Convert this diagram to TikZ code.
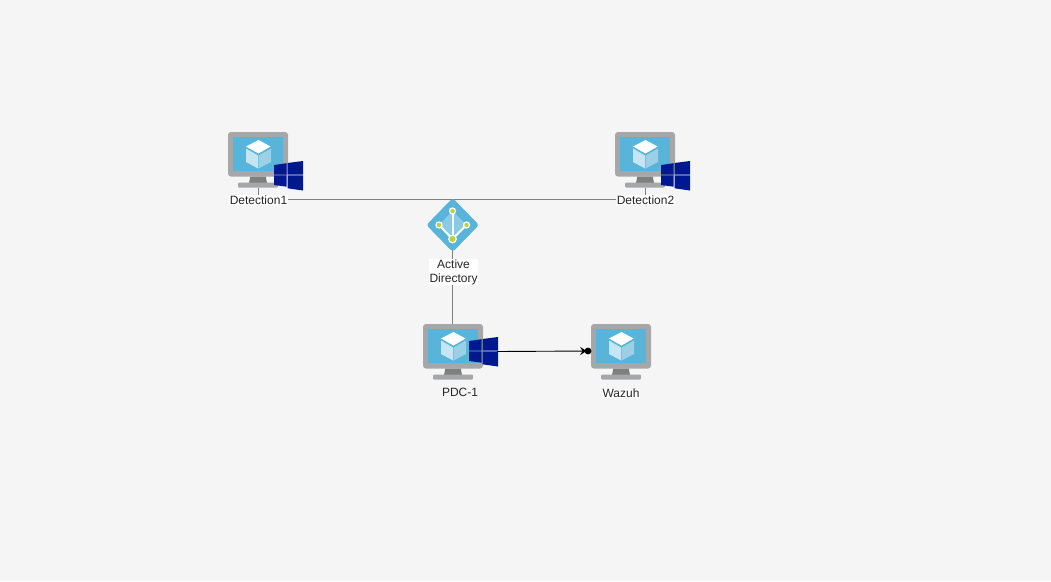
\documentclass[tikz,border=0pt]{standalone}
\usepackage{fontspec}
\setmainfont{Liberation Sans}
\definecolor{bgc}{HTML}{F5F5F5}
\definecolor{azure}{HTML}{59B4D9}
\definecolor{bezel}{HTML}{A6A7A8}
\definecolor{neck}{HTML}{7F7F7F}
\definecolor{wnavy}{HTML}{00188F}
\definecolor{cubeL}{HTML}{C3E6F2}
\definecolor{cubeR}{HTML}{9CD0E7}
\definecolor{lime}{HTML}{B8D432}
\definecolor{conn}{HTML}{808080}
\tikzset{
  x=1pt,y=-1pt,
  lbl/.style={font=\fontsize{12}{14}\selectfont,text=black!85,fill=white,inner sep=0.5pt,align=center},
  anchorbox/.style={inner sep=0,outer sep=0,minimum size=1pt},
  gline/.style={draw=conn,line width=0.8pt},
  pics/monitor/.style={code={
    \fill[bezel,rounded corners=3pt] (0,0) rectangle (60,44.5);
    \fill[azure] (5,5) rectangle (55,39);
    \fill[neck] (22,44.5) -- (38,44.5) -- (38,46) -- (39,51) -- (21,51) -- (22,46) -- cycle;
    \fill[bezel,rounded corners=1pt] (10,50.5) rectangle (50,55.5);
    \fill[white] (30.5,8) -- (42.5,14.5) -- (30.5,21.5) -- (18,14.5) -- cycle;
    \fill[cubeL] (18,16.5) -- (30,23.5) -- (30,36.5) -- (18,30) -- cycle;
    \fill[cubeR] (43,16.5) -- (30.6,23.5) -- (30.6,36.5) -- (43,30) -- cycle;
  }},
  pics/winlogo/.style={code={
    \fill[wnavy] (0,4) -- (12.7,2.2) -- (12.7,13.5) -- (0,13.5) -- cycle;
    \fill[wnavy] (13.5,2) -- (29,0) -- (29,13.5) -- (13.5,13.5) -- cycle;
    \fill[wnavy] (0,14.3) -- (12.7,14.3) -- (12.7,25.7) -- (0,24) -- cycle;
    \fill[wnavy] (13.5,14.3) -- (29,14.3) -- (29,29.5) -- (13.5,27.3) -- cycle;
  }}
}
\begin{document}
\begin{tikzpicture}
\useasboundingbox (0,0) rectangle (1051,581);
\fill[bgc] (0,0) rectangle (1051,581);
% anchors for connectors
\node[anchorbox] (basea) at (258,187.5) {};
\node[anchorbox] (baseb) at (645,187.5) {};
\node[lbl] (deta) at (258.5,200.4) {Detection1};
\node[lbl] (detb) at (645.5,200.4) {Detection2};
\node[lbl] (adl) at (453.5,272.2) {Active\\Directory};
\coordinate (adtop) at (452.5,199.5);
\node[anchorbox] (pdctop) at (452.5,324) {};
\node[anchorbox] (pdcout) at (497,351.5) {};
\node[anchorbox] (wazin) at (591,351) {};
\draw[gline] (basea.center) -- (deta.north -| basea.center);
\draw[gline] (baseb.center) -- (detb.north -| baseb.center);
\draw[gline] (deta.east |- adtop) -- (detb.west |- adtop);
\draw[gline] (adtop) -- (adl.north -| adtop);
\draw[gline] (adl.south -| pdctop) -- (pdctop);
% monitors
\pic at (228,132) {monitor};
\pic at (615,132) {monitor};
\pic at (423,324) {monitor};
\pic at (591,324) {monitor};
\pic at (274,161) {winlogo};
\pic at (661,161) {winlogo};
\pic at (469,337) {winlogo};
% active directory icon
\fill[azure,rounded corners=3pt] (452.7,198) -- (479,225) -- (452.7,252) -- (426.4,225) -- cycle;
\fill[white,opacity=.3] (452.5,211) -- (466.5,225) -- (452.5,239) -- (439,225) -- cycle;
\draw[white,line width=2pt] (452.5,211) -- (452.5,239);
\draw[white,line width=2pt] (439,225) -- (452.5,239) -- (466.5,225);
\foreach \p in {(452.5,211),(439,225),(466.5,225)}
  \filldraw[fill=lime,draw=white,line width=1.3pt] \p circle (3);
\filldraw[fill=lime,draw=white,line width=1.2pt] (452.5,239) circle (3.8);
% arrow
\draw[black,line width=0.9pt] (pdcout.center) -- (wazin.center);
\fill[black] (580,346.8) -- (586.5,351) -- (580,355.2) -- (582.5,351) -- cycle;
\fill[black] (588,351) circle (3.4);
% other labels
\node[lbl,fill=bgc] (pdcl) at (460,392.8) {PDC-1};
\node[lbl] (wazl) at (621,393.4) {Wazuh};
\end{tikzpicture}
\end{document}
